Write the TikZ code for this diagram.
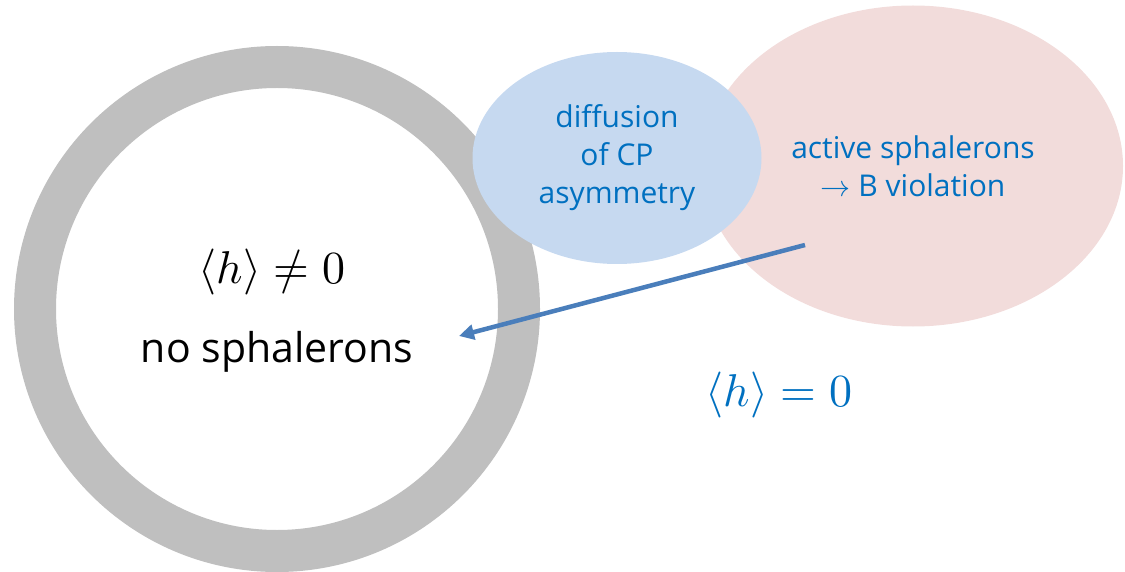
\documentclass[tikz,border=0pt]{standalone}
\usepackage{unicode-math}
\setmainfont{Open Sans}
\setmathfont{Latin Modern Math}
\usetikzlibrary{shapes.geometric,arrows.meta}
\definecolor{ringgray}{HTML}{BFBFBF}
\definecolor{diffblue}{HTML}{C6D9F0}
\definecolor{sphpink}{HTML}{F2DCDB}
\definecolor{txtblue}{HTML}{0070C0}
\definecolor{arrowblue}{HTML}{4A7EBB}
\begin{document}
\begin{tikzpicture}[x=1pt, y=-1pt,
  blob/.style={ellipse, inner sep=0pt, align=center, text=txtblue, font=\fontsize{30}{38}\selectfont},
  big/.style={font=\fontsize{41}{48}\selectfont},
  vev/.style={font=\fontsize{46}{52}\selectfont},
  arrow/.style={-{Triangle[length=15pt,width=15pt]}, line width=4.5pt, draw=arrowblue}
]
\useasboundingbox (0,0) rectangle (1125,572);
\node[circle, draw=ringgray, line width=42pt, minimum size=484pt] (ring) at (277,309) {};
\node[blob, fill=sphpink, minimum width=420pt, minimum height=321pt] (active) at (913,166) {active sphalerons\\$\rightarrow$ B violation};
\node[blob, fill=diffblue, minimum width=289pt, minimum height=212pt] (diff) at (617,158) {diffusion\\of CP\\asymmetry};
\node[vev] (broken) at (272,272) {$\langle h\rangle\neq 0$};
\node[big] (nosph) at (277,352) {no sphalerons};
\node[vev, text=txtblue] (sym) at (779,395) {$\langle h\rangle = 0$};
\coordinate (src) at (805,245);
\coordinate (dst) at (459,336);
\draw[arrow] (src) -- (dst);
\end{tikzpicture}
\end{document}
